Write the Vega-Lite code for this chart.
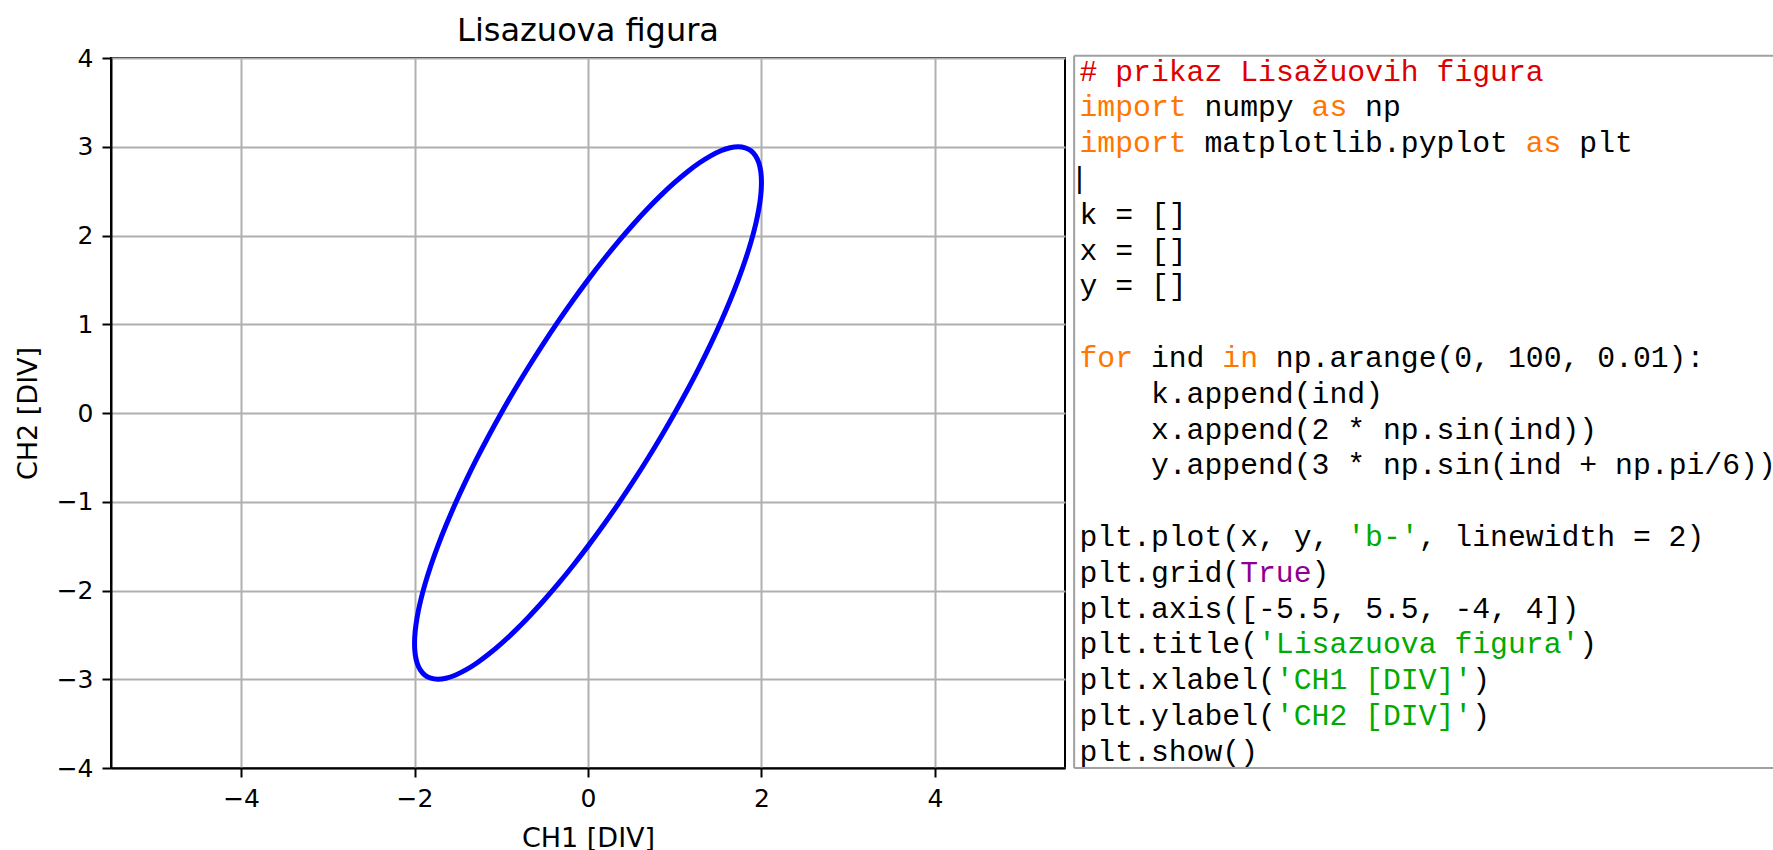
{
  "$schema": "https://vega.github.io/schema/vega-lite/v6.json",
  "background": "white",
  "padding": {"left": 13, "top": 14, "right": 0, "bottom": 0},
  "bounds": "flush",
  "spacing": 4,
  "datasets": {
    "curve": [
      {"i":0,"x":0,"y":1.5},{"i":1,"x":0.1744,"y":1.7207},{"i":2,"x":0.3473,"y":1.9284},{"i":3,"x":0.5176,"y":2.1213},
      {"i":4,"x":0.684,"y":2.2981},{"i":5,"x":0.8452,"y":2.4575},{"i":6,"x":1.0,"y":2.5981},{"i":7,"x":1.1472,"y":2.7189},
      {"i":8,"x":1.2856,"y":2.8191},{"i":9,"x":1.4142,"y":2.8978},{"i":10,"x":1.5321,"y":2.9544},{"i":11,"x":1.6383,"y":2.9886},
      {"i":12,"x":1.7321,"y":3.0},{"i":13,"x":1.8126,"y":2.9886},{"i":14,"x":1.8794,"y":2.9544},{"i":15,"x":1.9319,"y":2.8978},
      {"i":16,"x":1.9696,"y":2.8191},{"i":17,"x":1.9924,"y":2.7189},{"i":18,"x":2.0,"y":2.5981},{"i":19,"x":1.9924,"y":2.4575},
      {"i":20,"x":1.9696,"y":2.2981},{"i":21,"x":1.9319,"y":2.1213},{"i":22,"x":1.8794,"y":1.9284},{"i":23,"x":1.8126,"y":1.7207},
      {"i":24,"x":1.7321,"y":1.5},{"i":25,"x":1.6383,"y":1.2679},{"i":26,"x":1.5321,"y":1.0261},{"i":27,"x":1.4142,"y":0.7765},
      {"i":28,"x":1.2856,"y":0.5209},{"i":29,"x":1.1472,"y":0.2615},{"i":30,"x":1.0,"y":0.0},{"i":31,"x":0.8452,"y":-0.2615},
      {"i":32,"x":0.684,"y":-0.5209},{"i":33,"x":0.5176,"y":-0.7765},{"i":34,"x":0.3473,"y":-1.0261},{"i":35,"x":0.1744,"y":-1.2679},
      {"i":36,"x":0,"y":-1.5},{"i":37,"x":-0.1744,"y":-1.7207},{"i":38,"x":-0.3473,"y":-1.9284},{"i":39,"x":-0.5176,"y":-2.1213},
      {"i":40,"x":-0.684,"y":-2.2981},{"i":41,"x":-0.8452,"y":-2.4575},{"i":42,"x":-1.0,"y":-2.5981},{"i":43,"x":-1.1472,"y":-2.7189},
      {"i":44,"x":-1.2856,"y":-2.8191},{"i":45,"x":-1.4142,"y":-2.8978},{"i":46,"x":-1.5321,"y":-2.9544},{"i":47,"x":-1.6383,"y":-2.9886},
      {"i":48,"x":-1.7321,"y":-3.0},{"i":49,"x":-1.8126,"y":-2.9886},{"i":50,"x":-1.8794,"y":-2.9544},{"i":51,"x":-1.9319,"y":-2.8978},
      {"i":52,"x":-1.9696,"y":-2.8191},{"i":53,"x":-1.9924,"y":-2.7189},{"i":54,"x":-2.0,"y":-2.5981},{"i":55,"x":-1.9924,"y":-2.4575},
      {"i":56,"x":-1.9696,"y":-2.2981},{"i":57,"x":-1.9319,"y":-2.1213},{"i":58,"x":-1.8794,"y":-1.9284},{"i":59,"x":-1.8126,"y":-1.7207},
      {"i":60,"x":-1.7321,"y":-1.5},{"i":61,"x":-1.6383,"y":-1.2679},{"i":62,"x":-1.5321,"y":-1.0261},{"i":63,"x":-1.4142,"y":-0.7765},
      {"i":64,"x":-1.2856,"y":-0.5209},{"i":65,"x":-1.1472,"y":-0.2615},{"i":66,"x":-1.0,"y":0.0},{"i":67,"x":-0.8452,"y":0.2615},
      {"i":68,"x":-0.684,"y":0.5209},{"i":69,"x":-0.5176,"y":0.7765},{"i":70,"x":-0.3473,"y":1.0261},{"i":71,"x":-0.1744,"y":1.2679}
    ],
    "code": [
      {"line":1,"col":0,"text":"# prikaz Lisažuovih figura","kind":"comment"},
      {"line":2,"col":0,"text":"import","kind":"keyword"},
      {"line":2,"col":7,"text":"numpy","kind":"name"},
      {"line":2,"col":13,"text":"as","kind":"keyword"},
      {"line":2,"col":16,"text":"np","kind":"name"},
      {"line":3,"col":0,"text":"import","kind":"keyword"},
      {"line":3,"col":7,"text":"matplotlib.pyplot","kind":"name"},
      {"line":3,"col":25,"text":"as","kind":"keyword"},
      {"line":3,"col":28,"text":"plt","kind":"name"},
      {"line":4,"col":-0.5,"text":"|","kind":"name"},
      {"line":5,"col":0,"text":"k = []","kind":"name"},
      {"line":6,"col":0,"text":"x = []","kind":"name"},
      {"line":7,"col":0,"text":"y = []","kind":"name"},
      {"line":9,"col":0,"text":"for","kind":"keyword"},
      {"line":9,"col":4,"text":"ind","kind":"name"},
      {"line":9,"col":8,"text":"in","kind":"keyword"},
      {"line":9,"col":11,"text":"np.arange(0, 100, 0.01):","kind":"name"},
      {"line":10,"col":4,"text":"k.append(ind)","kind":"name"},
      {"line":11,"col":4,"text":"x.append(2 * np.sin(ind))","kind":"name"},
      {"line":12,"col":4,"text":"y.append(3 * np.sin(ind + np.pi/6))","kind":"name"},
      {"line":14,"col":0,"text":"plt.plot(x, y,","kind":"name"},
      {"line":14,"col":15,"text":"'b-'","kind":"string"},
      {"line":14,"col":19,"text":", linewidth = 2)","kind":"name"},
      {"line":15,"col":0,"text":"plt.grid(","kind":"name"},
      {"line":15,"col":9,"text":"True","kind":"builtin"},
      {"line":15,"col":13,"text":")","kind":"name"},
      {"line":16,"col":0,"text":"plt.axis([-5.5, 5.5, -4, 4])","kind":"name"},
      {"line":17,"col":0,"text":"plt.title(","kind":"name"},
      {"line":17,"col":10,"text":"'Lisazuova figura'","kind":"string"},
      {"line":17,"col":28,"text":")","kind":"name"},
      {"line":18,"col":0,"text":"plt.xlabel(","kind":"name"},
      {"line":18,"col":11,"text":"'CH1 [DIV]'","kind":"string"},
      {"line":18,"col":22,"text":")","kind":"name"},
      {"line":19,"col":0,"text":"plt.ylabel(","kind":"name"},
      {"line":19,"col":11,"text":"'CH2 [DIV]'","kind":"string"},
      {"line":19,"col":22,"text":")","kind":"name"},
      {"line":20,"col":0,"text":"plt.show()","kind":"name"}
    ]
  },
  "hconcat": [
    {
      "width": 954,
      "height": 710,
      "view": {"stroke": "black", "strokeWidth": 2},
      "title": {"text": "Lisazuova figura", "font": "DejaVu Sans", "fontSize": 32, "fontWeight": "normal", "color": "black", "offset": -2, "anchor": "middle"},
      "data": {"name": "curve"},
      "mark": {"type": "line", "color": "#0000ff", "strokeWidth": 5, "interpolate": "cardinal-closed", "clip": true},
      "encoding": {
        "order": {"field": "i", "type": "quantitative"},
        "x": {
          "field": "x", "type": "quantitative",
          "scale": {"domain": [-5.5, 5.5], "nice": false, "zero": false},
          "axis": {
            "title": "CH1 [DIV]", "values": [-4, -2, 0, 2, 4],
            "grid": true, "gridColor": "#b0b0b0", "gridWidth": 2,
            "domainColor": "black", "domainWidth": 2,
            "tickColor": "black", "tickWidth": 2, "tickSize": 9,
            "labelPadding": 9, "labelFont": "DejaVu Sans", "labelFontSize": 25, "labelColor": "black",
            "labelFlush": false, "labelOverlap": false,
            "titleFont": "DejaVu Sans", "titleFontSize": 27, "titleFontWeight": "normal", "titleColor": "black", "titlePadding": 14
          }
        },
        "y": {
          "field": "y", "type": "quantitative",
          "scale": {"domain": [-4, 4], "nice": false, "zero": false},
          "axis": {
            "title": "CH2 [DIV]", "values": [-4, -3, -2, -1, 0, 1, 2, 3, 4],
            "grid": true, "gridColor": "#b0b0b0", "gridWidth": 2,
            "domainColor": "black", "domainWidth": 2,
            "tickColor": "black", "tickWidth": 2, "tickSize": 9,
            "labelPadding": 9, "labelFont": "DejaVu Sans", "labelFontSize": 25, "labelColor": "black",
            "labelFlush": false, "labelOverlap": false,
            "titleFont": "DejaVu Sans", "titleFontSize": 27, "titleFontWeight": "normal", "titleColor": "black", "titlePadding": 13.7
          }
        }
      }
    },
    {
      "width": 706,
      "height": 710,
      "view": {"stroke": null},
      "layer": [
        {
          "data": {"values": [{}]},
          "mark": {"type": "rule", "color": "#a0a0a0", "strokeWidth": 2},
          "encoding": {
            "x": {"datum": -0.3, "type": "quantitative", "scale": {"domain": [-0.588, 38.964], "nice": false, "zero": false}, "axis": null},
            "y": {"datum": 0.302, "type": "quantitative", "scale": {"domain": [0.366, 20.199], "nice": false, "zero": false, "reverse": true}, "axis": null},
            "y2": {"datum": 20.199}
          }
        },
        {
          "data": {"values": [{}]},
          "mark": {"type": "rule", "color": "#a0a0a0", "strokeWidth": 2},
          "encoding": {
            "x": {"datum": -0.3, "type": "quantitative"},
            "x2": {"datum": 38.964},
            "y": {"datum": 0.302, "type": "quantitative"}
          }
        },
        {
          "data": {"values": [{}]},
          "mark": {"type": "rule", "color": "#a0a0a0", "strokeWidth": 2},
          "encoding": {
            "x": {"datum": -0.3, "type": "quantitative"},
            "x2": {"datum": 38.964},
            "y": {"datum": 20.199, "type": "quantitative"}
          }
        },
        {
          "data": {"name": "code"},
          "mark": {"type": "text", "align": "left", "baseline": "alphabetic", "font": "Liberation Mono", "fontSize": 29.75, "clip": true},
          "encoding": {
            "x": {"field": "col", "type": "quantitative"},
            "y": {"field": "line", "type": "quantitative"},
            "text": {"field": "text"},
            "color": {
              "field": "kind", "type": "nominal", "legend": null,
              "scale": {"domain": ["comment", "keyword", "name", "string", "builtin"], "range": ["#dd0000", "#ff7700", "#000000", "#00aa00", "#900090"]}
            }
          }
        }
      ]
    }
  ]
}
